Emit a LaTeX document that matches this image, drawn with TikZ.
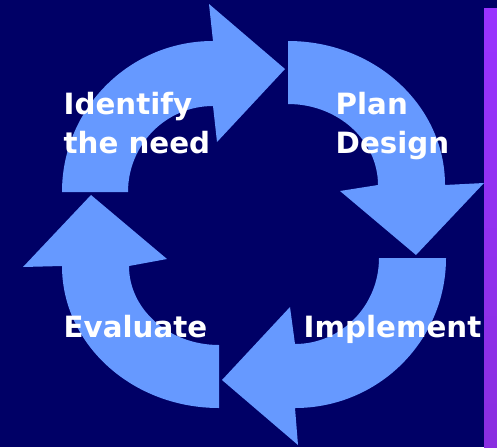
\documentclass[tikz,border=0pt]{standalone}
\usepackage{fontspec}
\setmainfont{DejaVu Sans}
\usetikzlibrary{positioning}
\definecolor{navy}{HTML}{000066}
\definecolor{loopblue}{HTML}{6699FF}
\definecolor{barpurple}{HTML}{9933FF}
\definecolor{barpurpledark}{HTML}{8A2EE0}

\tikzset{
  cyclearrow/.style={fill=loopblue, draw=none},
  steplabel/.style={text=white, font=\bfseries\fontsize{29.3}{39}\selectfont,
    inner sep=0pt, anchor=base west, align=left}
}

\begin{document}
\begin{tikzpicture}[x=1pt,y=1pt]
\fill[navy] (0,0) rectangle (497,-447);
\shade[top color=barpurple, bottom color=barpurpledark] (484,-8) rectangle (497,-447);

% the four arrows of the cycle
\fill[cyclearrow] (62,-192) arc[start angle=180,end angle=90,x radius=151pt,y radius=151pt]
  -- (209,-4) -- (285,-69) -- (217,-142) -- (213,-106)
  arc[start angle=90,end angle=180,x radius=85pt,y radius=86pt] -- cycle;
\fill[cyclearrow] (288,-41) arc[start angle=90,end angle=0,x radius=157pt,y radius=144pt]
  -- (484,-183) -- (416,-255) -- (340,-191) -- (378,-185)
  arc[start angle=0,end angle=90,x radius=90pt,y radius=81pt] -- cycle;
\fill[cyclearrow] (446,-258) arc[start angle=0,end angle=-90,x radius=151pt,y radius=150pt]
  -- (298,-445) -- (222,-380) -- (290,-307) -- (295,-344)
  arc[start angle=-90,end angle=0,x radius=84pt,y radius=86pt] -- cycle;
\fill[cyclearrow] (219,-408) arc[start angle=-90,end angle=-180,x radius=157pt,y radius=142pt]
  -- (23,-267) -- (91,-195) -- (167,-259) -- (129,-266)
  arc[start angle=180,end angle=270,x radius=90pt,y radius=79pt] -- cycle;

% labels (base is the last line)
\node[steplabel] (identify)  at (63.5,-153)  {Identify\\the need};
\node[steplabel] (plan)      at (335.5,-153) {Plan\\Design};
\node[steplabel] (evaluate)  at (63.5,-337)  {Evaluate};
\node[steplabel] (implement) at (303.5,-337) {Implement};
\end{tikzpicture}
\end{document}
